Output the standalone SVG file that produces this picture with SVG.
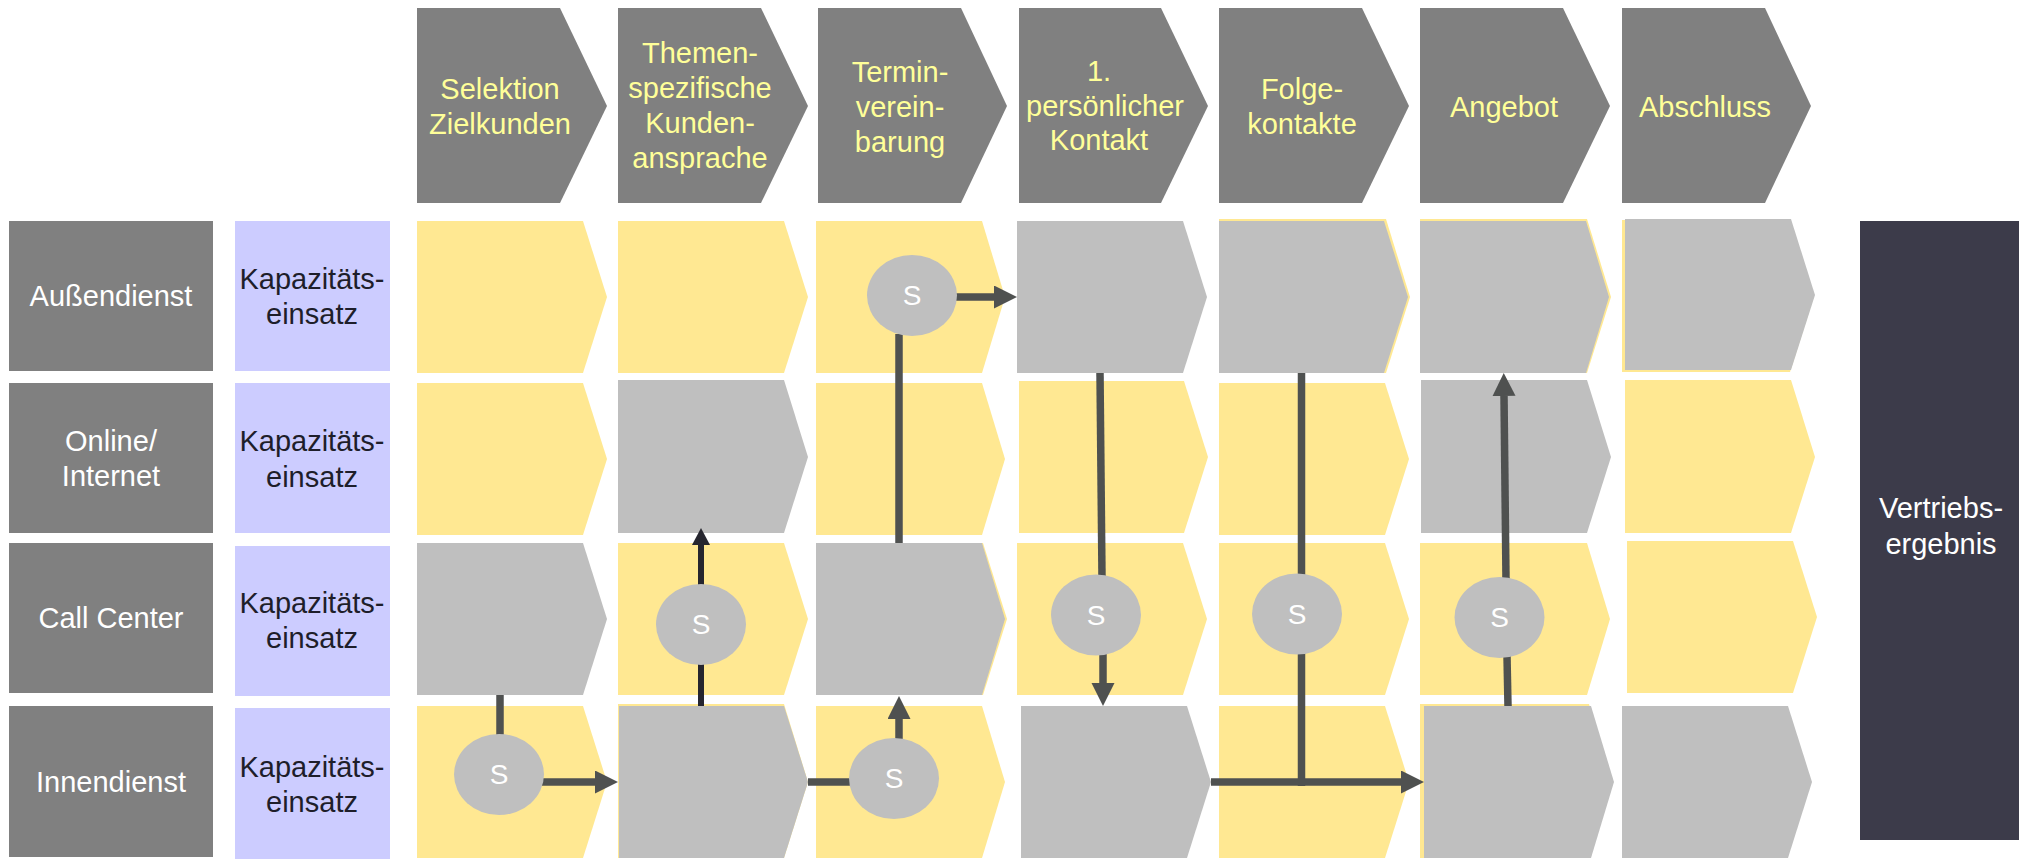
<svg xmlns="http://www.w3.org/2000/svg" width="2022" height="859" viewBox="0 0 2022 859">
<defs>
<style>
.hd{fill:#808080}
.y{fill:#ffe892}
.g{fill:#bfbfbf}
.lab{fill:#808080}
.kap{fill:#ccccff}
.t{font-family:"Liberation Sans",Arial,sans-serif;font-size:29px;text-anchor:middle}
.ht{fill:#ffff99}
.wt{fill:#ffffff}
.kt{fill:#1e1e2a}
.st{font-family:"Liberation Sans",Arial,sans-serif;font-size:28px;text-anchor:middle;fill:#ffffff}
.c{fill:#bfbfbf}
.ln{stroke:#4f5150;stroke-width:7.5;fill:none}
.ln2{stroke:#26262f;stroke-width:6;fill:none}
</style>
<marker id="ah" markerUnits="userSpaceOnUse" markerWidth="24" markerHeight="24" refX="0" refY="11.5" orient="auto" viewBox="0 0 24 24">
<path d="M0,0 L23,11.5 L0,23 z" fill="#4f5150"/>
</marker>
<marker id="ah2" markerUnits="userSpaceOnUse" markerWidth="19" markerHeight="19" refX="0" refY="9" orient="auto" viewBox="0 0 19 19">
<path d="M0,0 L17,9 L0,18 z" fill="#26262f"/>
</marker>
</defs>
<rect width="2022" height="859" fill="#ffffff"/>

<!-- header chevrons -->
<g id="h1"><polygon class="hd" points="417,8 560,8 607,106 560,203 417,203"/><text class="t ht" x="500" y="99">Selektion</text><text class="t ht" x="500" y="134">Zielkunden</text></g>
<g id="h2"><polygon class="hd" points="618,8 761,8 808,106 761,203 618,203"/><text class="t ht" x="700" y="63">Themen-</text><text class="t ht" x="700" y="98">spezifische</text><text class="t ht" x="700" y="133">Kunden-</text><text class="t ht" x="700" y="168">ansprache</text></g>
<g id="h3"><polygon class="hd" points="818,8 961,8 1007,106 961,203 818,203"/><text class="t ht" x="900" y="82">Termin-</text><text class="t ht" x="900" y="117">verein-</text><text class="t ht" x="900" y="152">barung</text></g>
<g id="h4"><polygon class="hd" points="1019,8 1161,8 1208,106 1161,203 1019,203"/><text class="t ht" x="1099" y="81">1.</text><text class="t ht" x="1105" y="116">persönlicher</text><text class="t ht" x="1099" y="150">Kontakt</text></g>
<g id="h5"><polygon class="hd" points="1219,8 1362,8 1409,106 1362,203 1219,203"/><text class="t ht" x="1302" y="99">Folge-</text><text class="t ht" x="1302" y="134">kontakte</text></g>
<g id="h6"><polygon class="hd" points="1420,8 1563,8 1610,106 1563,203 1420,203"/><text class="t ht" x="1504" y="117">Angebot</text></g>
<g id="h7"><polygon class="hd" points="1622,8 1765,8 1811,106 1765,203 1622,203"/><text class="t ht" x="1705" y="117">Abschluss</text></g>

<!-- row labels -->
<g id="r1"><rect class="lab" x="9" y="221" width="204" height="150"/><text class="t wt" x="111" y="306">Außendienst</text></g>
<g id="r2"><rect class="lab" x="9" y="383" width="204" height="150"/><text class="t wt" x="111" y="451">Online/</text><text class="t wt" x="111" y="486">Internet</text></g>
<g id="r3"><rect class="lab" x="9" y="543" width="204" height="150"/><text class="t wt" x="111" y="628">Call Center</text></g>
<g id="r4"><rect class="lab" x="9" y="706" width="204" height="151"/><text class="t wt" x="111" y="792">Innendienst</text></g>

<g id="k1"><rect class="kap" x="235" y="221" width="155" height="150"/><text class="t kt" x="312" y="289">Kapazitäts-</text><text class="t kt" x="312" y="324">einsatz</text></g>
<g id="k2"><rect class="kap" x="235" y="383" width="155" height="150"/><text class="t kt" x="312" y="451">Kapazitäts-</text><text class="t kt" x="312" y="487">einsatz</text></g>
<g id="k3"><rect class="kap" x="235" y="546" width="155" height="150"/><text class="t kt" x="312" y="613">Kapazitäts-</text><text class="t kt" x="312" y="648">einsatz</text></g>
<g id="k4"><rect class="kap" x="235" y="708" width="155" height="151"/><text class="t kt" x="312" y="777">Kapazitäts-</text><text class="t kt" x="312" y="812">einsatz</text></g>

<!-- row 1 cells -->
<g id="c11"><polygon class="y" points="417,221 583,221 607,297 583,373 417,373"/></g>
<g id="c12"><polygon class="y" points="618,221 784,221 808,297 784,373 618,373"/></g>
<g id="c13"><polygon class="y" points="816,221 982,221 1005,297 982,373 816,373"/></g>
<g id="c14"><polygon class="g" points="1017,221 1183,221 1207,297 1183,373 1017,373"/></g>
<g id="c15"><polygon class="y" points="1219,219 1386,219 1410,297 1386,373 1219,373"/><polygon class="g" points="1219,221 1384,221 1408,297 1384,373 1219,373"/></g>
<g id="c16"><polygon class="y" points="1420,219 1587,219 1611,297 1587,373 1420,373"/><polygon class="g" points="1420,221 1586,221 1609,297 1586,373 1420,373"/></g>
<g id="c17"><polygon class="y" points="1622,220 1790,220 1814,296 1790,372 1622,372"/><polygon class="g" points="1625,219 1791,219 1815,295 1791,370 1625,370"/></g>

<!-- row 2 cells -->
<g id="c21"><polygon class="y" points="417,383 583,383 607,459 583,535 417,535"/></g>
<g id="c22"><polygon class="g" points="618,380 784,380 808,457 784,533 618,533"/></g>
<g id="c23"><polygon class="y" points="816,383 982,383 1005,459 982,535 816,535"/></g>
<g id="c24"><polygon class="y" points="1019,381 1184,381 1208,457 1184,533 1019,533"/></g>
<g id="c25"><polygon class="y" points="1219,383 1385,383 1409,459 1385,535 1219,535"/></g>
<g id="c26"><polygon class="g" points="1421,380 1587,380 1611,457 1587,533 1421,533"/></g>
<g id="c27"><polygon class="y" points="1625,380 1791,380 1815,457 1791,533 1625,533"/></g>

<!-- row 3 cells -->
<g id="c31"><polygon class="g" points="417,543 583,543 607,619 583,695 417,695"/></g>
<g id="c32"><polygon class="y" points="618,543 784,543 808,619 784,695 618,695"/></g>
<g id="c33"><polygon class="y" points="816,543 983,543 1007,619 983,695 816,695"/><polygon class="g" points="816,543 982,543 1005,619 982,695 816,695"/></g>
<g id="c34"><polygon class="y" points="1017,543 1183,543 1207,619 1183,695 1017,695"/></g>
<g id="c35"><polygon class="y" points="1219,543 1385,543 1409,619 1385,695 1219,695"/></g>
<g id="c36"><polygon class="y" points="1420,543 1587,543 1610,619 1587,695 1420,695"/></g>
<g id="c37"><polygon class="y" points="1627,541 1793,541 1817,617 1793,693 1627,693"/></g>

<!-- row 4 cells -->
<g id="c41"><polygon class="y" points="417,706 583,706 607,782 583,858 417,858"/></g>
<g id="c42"><polygon class="y" points="618,704 784,704 808,782 784,858 618,858"/><polygon class="g" points="619,706 784,706 808,782 784,858 619,858"/></g>
<g id="c43"><polygon class="y" points="816,706 982,706 1005,782 982,858 816,858"/></g>
<g id="c44"><polygon class="g" points="1021,706 1187,706 1211,782 1187,858 1021,858"/></g>
<g id="c45"><polygon class="y" points="1219,706 1385,706 1409,782 1385,858 1219,858"/></g>
<g id="c46"><polygon class="y" points="1420,704 1589,704 1612,782 1589,858 1420,858"/><polygon class="g" points="1424,706 1591,706 1614,782 1591,858 1424,858"/></g>
<g id="c47"><polygon class="g" points="1622,706 1788,706 1812,782 1788,858 1622,858"/></g>

<!-- result box -->
<g id="result"><rect x="1860" y="221" width="159" height="619" fill="#3c3b4a"/><text class="t wt" x="1941" y="518">Vertriebs-</text><text class="t wt" x="1941" y="554">ergebnis</text></g>

<!-- connectors -->
<g id="connectors">
<line class="ln" x1="500" y1="695" x2="500" y2="736"/>
<line class="ln" x1="542" y1="782" x2="595" y2="782" marker-end="url(#ah)"/>
<line class="ln2" x1="701" y1="586" x2="701" y2="545" marker-end="url(#ah2)"/>
<line class="ln2" x1="701" y1="663" x2="701" y2="706"/>
<line class="ln" x1="955" y1="297" x2="994" y2="297" marker-end="url(#ah)"/>
<line class="ln" x1="899" y1="334" x2="899" y2="543"/>
<line class="ln" x1="808" y1="782" x2="851" y2="782"/>
<line class="ln" x1="899" y1="740" x2="899" y2="719" marker-end="url(#ah)"/>
<line class="ln" x1="1100" y1="373" x2="1102" y2="577"/>
<line class="ln" x1="1103" y1="653" x2="1103" y2="683" marker-end="url(#ah)"/>
<line class="ln" x1="1301.5" y1="373" x2="1301.5" y2="786"/>
<line class="ln" x1="1211" y1="782" x2="1401" y2="782" marker-end="url(#ah)"/>
<line class="ln" x1="1508" y1="706" x2="1507" y2="656"/>
<line class="ln" x1="1506" y1="579" x2="1504" y2="396" marker-end="url(#ah)"/>
</g>

<!-- S nodes -->
<g id="s1"><ellipse class="c" cx="499" cy="774.5" rx="45" ry="40.5"/><text class="st" x="499" y="784">S</text></g>
<g id="s2"><ellipse class="c" cx="701" cy="624.5" rx="45" ry="40.5"/><text class="st" x="701" y="634">S</text></g>
<g id="s3"><ellipse class="c" cx="912" cy="295.5" rx="45" ry="40.5"/><text class="st" x="912" y="305">S</text></g>
<g id="s4"><ellipse class="c" cx="894" cy="778.5" rx="45" ry="40.5"/><text class="st" x="894" y="788">S</text></g>
<g id="s5"><ellipse class="c" cx="1096" cy="615" rx="45" ry="40.5"/><text class="st" x="1096" y="625">S</text></g>
<g id="s6"><ellipse class="c" cx="1297" cy="614" rx="45" ry="40.5"/><text class="st" x="1297" y="624">S</text></g>
<g id="s7"><ellipse class="c" cx="1499.5" cy="617.5" rx="45" ry="40.5"/><text class="st" x="1499.5" y="627">S</text></g>
</svg>
